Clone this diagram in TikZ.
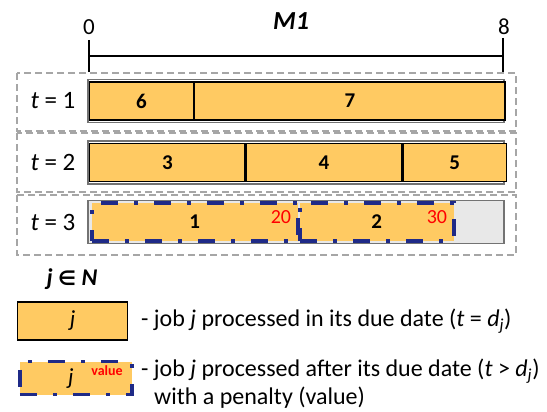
\documentclass[tikz,border=0pt]{standalone}
\usepackage{fontspec}
\setmainfont{Carlito}
\newfontfamily\symfont{DejaVu Sans}
\definecolor{jobfill}{RGB}{255,202,98}
\definecolor{latecol}{RGB}{31,42,135}
\definecolor{framegray}{RGB}{166,166,166}
\definecolor{idlegray}{RGB}{232,232,232}
\definecolor{penred}{RGB}{255,0,0}
\begin{document}
\begin{tikzpicture}[x=1pt,y=-1pt,
  rowbox/.style={draw=framegray, dash pattern=on 7pt off 4pt, line width=1.3pt},
  barframe/.style={draw=black!55, line width=1.2pt, inner sep=0pt, minimum height=43pt, minimum width=416pt},
  ontime/.style={draw=black, line width=1.4pt, fill=jobfill, inner sep=0pt, minimum height=38pt, anchor=west, font=\fontsize{21}{24}\selectfont\bfseries},
  late/.style={draw=latecol, line width=3.6pt, dash pattern=on 17pt off 16pt on 4pt off 16pt, fill=jobfill, inner sep=0pt, minimum height=38pt, anchor=west, font=\fontsize{21}{24}\selectfont\bfseries},
  penalty/.style={text=penred, font=\fontsize{20}{24}\selectfont},
  rowlabel/.style={font=\fontsize{25}{30}\selectfont},
  ticklabel/.style={font=\fontsize{23}{27}\selectfont},
  legtext/.style={font=\fontsize{24}{28}\selectfont, anchor=west, inner sep=0pt},
]
\useasboundingbox (0,0) rectangle (547,412);

% time axis of machine M1
\coordinate (a0) at (89,56);
\coordinate (a8) at (503,56);
\draw[line width=1.2pt] (89,40) -- (89,72);
\draw[line width=1.2pt] (503,38) -- (503,72);
\draw[line width=1.2pt] (a0) -- (a8);
\node[ticklabel] (l0) at (89,27) {0};
\node[ticklabel] (l8) at (504,27) {8};
\node[font=\fontsize{26}{30}\selectfont\bfseries\itshape] (m1) at (291,21) {M1};

% period frames
\draw[rowbox] (17,73) rectangle (516,131);
\draw[rowbox] (17,133) rectangle (516,192);
\draw[rowbox] (17,195) rectangle (516,255);

\node[rowlabel] (t1) at (53,101) {\textit{t} = 1};
\node[rowlabel] (t2) at (53,162) {\textit{t} = 2};
\node[rowlabel] (t3) at (53,222) {\textit{t} = 3};

% period 1
\node[barframe] (b1) at (296,101) {};
\node[ontime, minimum width=103.5pt] (j6) at (89,101) {6};
\node[ontime, minimum width=310.5pt] (j7) at (j6.east) {7};

% period 2
\node[barframe] (b2) at (296,162.5) {};
\node[ontime, minimum width=155.25pt] (j3) at (89,162.5) {3};
\node[ontime, minimum width=155.25pt] (j4) at (j3.east) {4};
\node[ontime, minimum width=103.5pt] (j5) at (j4.east) {5};

% period 3 (late jobs)
\node[barframe, fill=idlegray] (b3) at (296,222) {};
\node[late, minimum width=206pt] (j1) at (90,222) {1};
\node[late, minimum width=154pt] (j2) at (298,222) {2};
\node[penalty, anchor=east] (p1) at ([xshift=-5pt,yshift=5pt]j1.east) {20};
\node[penalty, anchor=east] (p2) at ([xshift=-5pt,yshift=5pt]j2.east) {30};

% legend
\node[font=\fontsize{24}{28}\selectfont\bfseries\itshape] (set) at (72,279) {j {\symfont\upshape\bfseries\fontsize{20}{24}\selectfont ∈} N};
\node[ontime, minimum width=110pt, font=\fontsize{23}{27}\selectfont\itshape] (lg1) at (17,321) {j};
\node[legtext] (tx1) at (141,321) {- job \textit{j} processed in its due date (\textit{t} = \textit{d}\textsubscript{\textit{j}})};
\node[late, minimum width=112pt, minimum height=33pt] (lg2) at (18,378) {};
\node[font=\fontsize{23}{27}\selectfont\itshape] (lgj) at (71,379) {j};
\node[text=penred, font=\fontsize{14}{16}\selectfont\bfseries] (lgv) at (107,371) {value};
\node[legtext] (tx2) at (141,371) {- job \textit{j} processed after its due date (\textit{t} > \textit{d}\textsubscript{\textit{j}})};
\node[legtext] (tx3) at (154,398) {with a penalty (value)};
\end{tikzpicture}
\end{document}
